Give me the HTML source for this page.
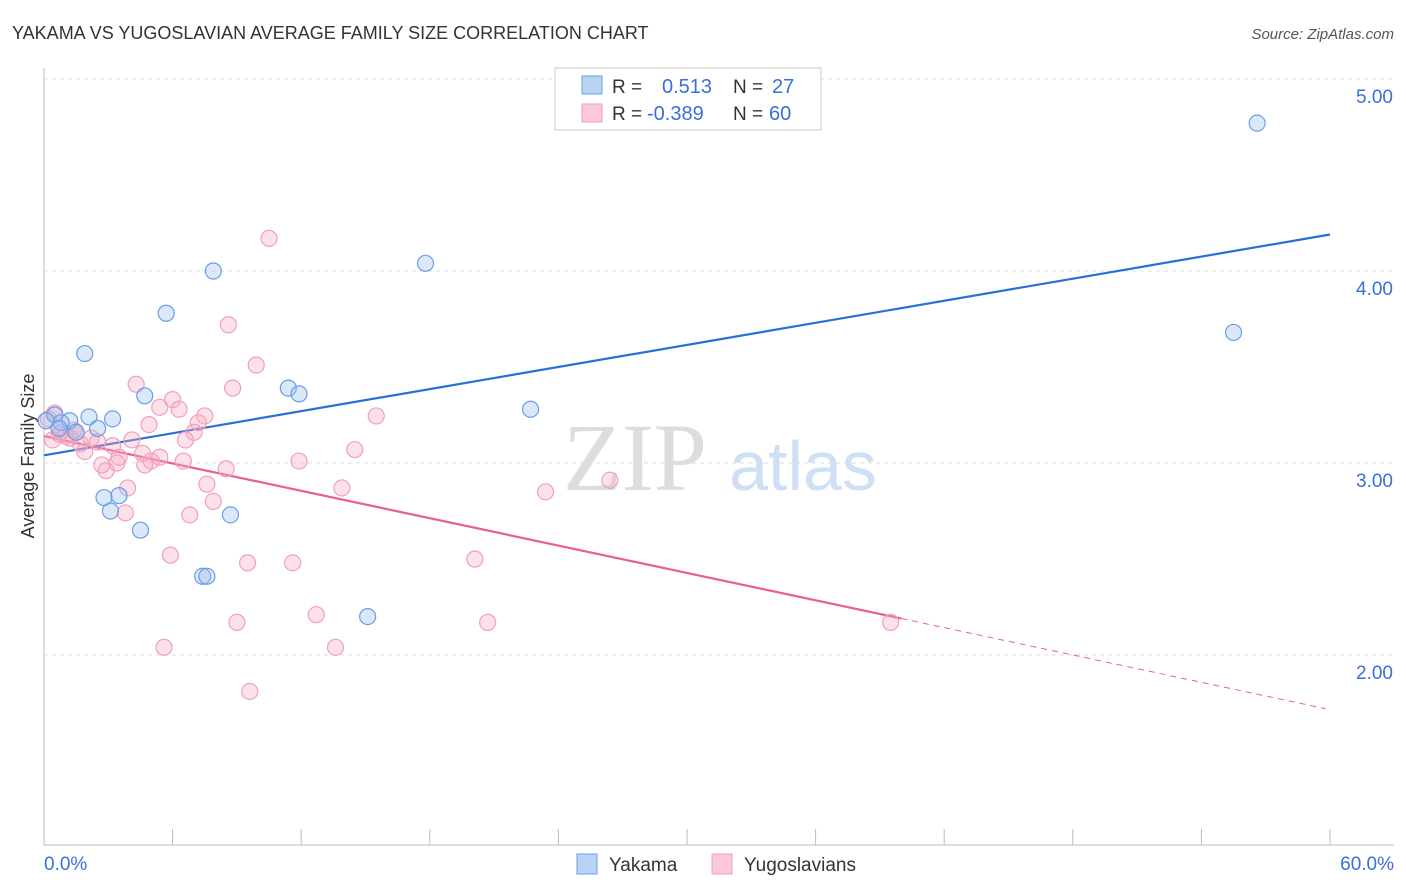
<!DOCTYPE html>
<html><head><meta charset="utf-8"><style>
body{margin:0;background:#fff;font-family:"Liberation Sans",sans-serif;}
svg{display:block}
</style></head><body>
<svg id="chart" width="1406" height="892" xmlns="http://www.w3.org/2000/svg">
<text x="12" y="39" font-size="18" fill="#333">YAKAMA VS YUGOSLAVIAN AVERAGE FAMILY SIZE CORRELATION CHART</text>
<text x="1394" y="39" font-size="15" fill="#555" font-style="italic" text-anchor="end">Source: ZipAtlas.com</text>
<text x="0" y="0" transform="translate(34,456) rotate(-90)" font-size="18" fill="#333" text-anchor="middle">Average Family Size</text>
<g>
<text x="635" y="490" font-size="96" fill="#ddd" font-family="Liberation Serif,serif" text-anchor="middle">ZIP</text>
<text x="803" y="490" font-size="70" fill="#cfe0f4" text-anchor="middle">atlas</text>
</g>
<g id="grid"></g><g id="axes"></g><g id="lines"></g><g id="pts"></g>
<g>
<rect x="555" y="68" width="266" height="62" fill="#fff" stroke="#ccc"/>
<rect x="582" y="76" width="20" height="18" fill="#b9d3f5" stroke="#6a9ee8"/>
<rect x="582" y="104" width="20" height="18" fill="#fcc9d8" stroke="#f0a0b8"/>
<text x="612" y="93" font-size="19" fill="#333">R =</text>
<text x="662" y="93" font-size="20" fill="#3a6fd8">0.513</text>
<text x="733" y="93" font-size="19" fill="#333">N =</text>
<text x="772" y="93" font-size="20" fill="#3a6fd8">27</text>
<text x="612" y="120" font-size="19" fill="#333">R =</text>
<text x="647" y="120" font-size="20" fill="#3a6fd8">-0.389</text>
<text x="733" y="120" font-size="19" fill="#333">N =</text>
<text x="769" y="120" font-size="20" fill="#3a6fd8">60</text>
</g>
<g>
<rect x="577" y="854" width="20" height="20" fill="#b9d3f5" stroke="#6a9ee8"/>
<text x="609" y="871" font-size="19" fill="#333">Yakama</text>
<rect x="712" y="854" width="20" height="20" fill="#fcc9d8" stroke="#f0a0b8"/>
<text x="744" y="871" font-size="19" fill="#333">Yugoslavians</text>
</g>
</svg>
<script>
const yTicks=[2,3,4,5];
const xTickLabels=["0.0%","60.0%"];
const blueX=[56.6,55.5,17.8,7.9,5.7,1.9,11.4,11.9,4.7,22.7,0.5,2.1,3.2,1.2,0.8,0.1,2.5,2.8,3.5,3.1,4.5,8.7,7.4,7.6,15.1,0.7,1.5];
const blueY=[4.77,3.68,4.04,4.00,3.78,3.57,3.39,3.36,3.35,3.28,3.25,3.24,3.23,3.22,3.21,3.22,3.18,2.82,2.83,2.75,2.65,2.73,2.41,2.41,2.20,3.18,3.16];
const pinkX=[10.5,8.6,9.9,4.3,8.8,6.0,5.4,6.3,7.5,15.5,4.9,7.2,7.0,6.6,4.1,0.5,0.2,0.7,1.0,1.7,1.5,2.2,2.5,3.2,1.9,14.5,4.6,3.5,3.4,5.0,5.4,6.5,11.9,4.7,2.7,2.9,8.5,7.6,3.9,13.9,23.4,26.4,7.9,3.8,6.8,5.9,9.5,11.6,20.1,12.7,9.0,20.7,39.5,5.6,13.6,9.6,0.8,1.2,1.4,0.4];
const pinkY=[4.17,3.72,3.51,3.41,3.39,3.33,3.29,3.28,3.245,3.245,3.20,3.21,3.16,3.12,3.12,3.26,3.23,3.15,3.14,3.10,3.16,3.13,3.11,3.09,3.06,3.07,3.05,3.03,3.00,3.01,3.03,3.01,3.01,2.99,2.99,2.96,2.97,2.89,2.87,2.87,2.85,2.91,2.80,2.74,2.73,2.52,2.48,2.48,2.50,2.21,2.17,2.17,2.17,2.04,2.04,1.81,3.16,3.13,3.17,3.12];
const blueLine=[0,3.04,60,4.19];
const pinkLine=[0,3.14,40,2.19,59.8,1.72];
const NS="http://www.w3.org/2000/svg";
const X0=44,X1=1330;const sx=v=>X0+(X1-X0)*v/60;const sy=v=>463-(v-3)*192;
function mk(tag,at,parent){const e=document.createElementNS(NS,tag);for(const k in at)e.setAttribute(k,at[k]);document.getElementById(parent).appendChild(e);return e;}
yTicks.forEach(t=>{
 const g=mk('line',{x1:44,x2:1394,y1:sy(t),y2:sy(t),stroke:'#ddd','stroke-dasharray':'4,4'},'grid');
 
 
 const l=mk('text',{x:1393,y:sy(t)+24,'font-size':19,fill:'#3a6fd8','text-anchor':'end'},'grid');l.textContent=t.toFixed(2);
 
 
});
mk('line',{x1:44,x2:1394,y1:845,y2:845,stroke:'#bbb'},'axes');
mk('line',{x1:44,x2:44,y1:68,y2:845,stroke:'#bbb'},'axes');
for(let i=0;i<=10;i++){const t=mk('line',{x1:sx(i*6),x2:sx(i*6),y1:829,y2:845,stroke:'#bbb'},'axes');
 
 }
const xl0=mk('text',{x:44,y:870,'font-size':19,fill:'#3a6fd8'},'axes');xl0.textContent=xTickLabels[0];


const xl1=mk('text',{x:1394,y:870,'font-size':19,fill:'#3a6fd8','text-anchor':'end'},'axes');xl1.textContent=xTickLabels[1];


pinkX.forEach((v,i)=>{const c=mk('circle',{cx:sx(v),cy:sy(pinkY[i]),r:8,fill:'rgba(248,170,195,0.35)',stroke:'#f0a0b8','stroke-width':1.2},'pts');
 
 });
blueX.forEach((v,i)=>{const c=mk('circle',{cx:sx(v),cy:sy(blueY[i]),r:8,fill:'rgba(150,190,240,0.35)',stroke:'#6a9ee8','stroke-width':1.2},'pts');
 
 });
const bl=mk('line',{x1:sx(blueLine[0]),y1:sy(blueLine[1]),x2:sx(blueLine[2]),y2:sy(blueLine[3]),stroke:'#2a6fd8','stroke-width':2.2},'lines');


const pl=mk('line',{x1:sx(pinkLine[0]),y1:sy(pinkLine[1]),x2:sx(pinkLine[2]),y2:sy(pinkLine[3]),stroke:'#e8608c','stroke-width':2.2},'lines');


const pd=mk('line',{x1:sx(pinkLine[2]),y1:sy(pinkLine[3]),x2:sx(pinkLine[4]),y2:sy(pinkLine[5]),stroke:'#e8608c','stroke-width':1,'stroke-dasharray':'6,5'},'lines');


</script>
</body></html>
